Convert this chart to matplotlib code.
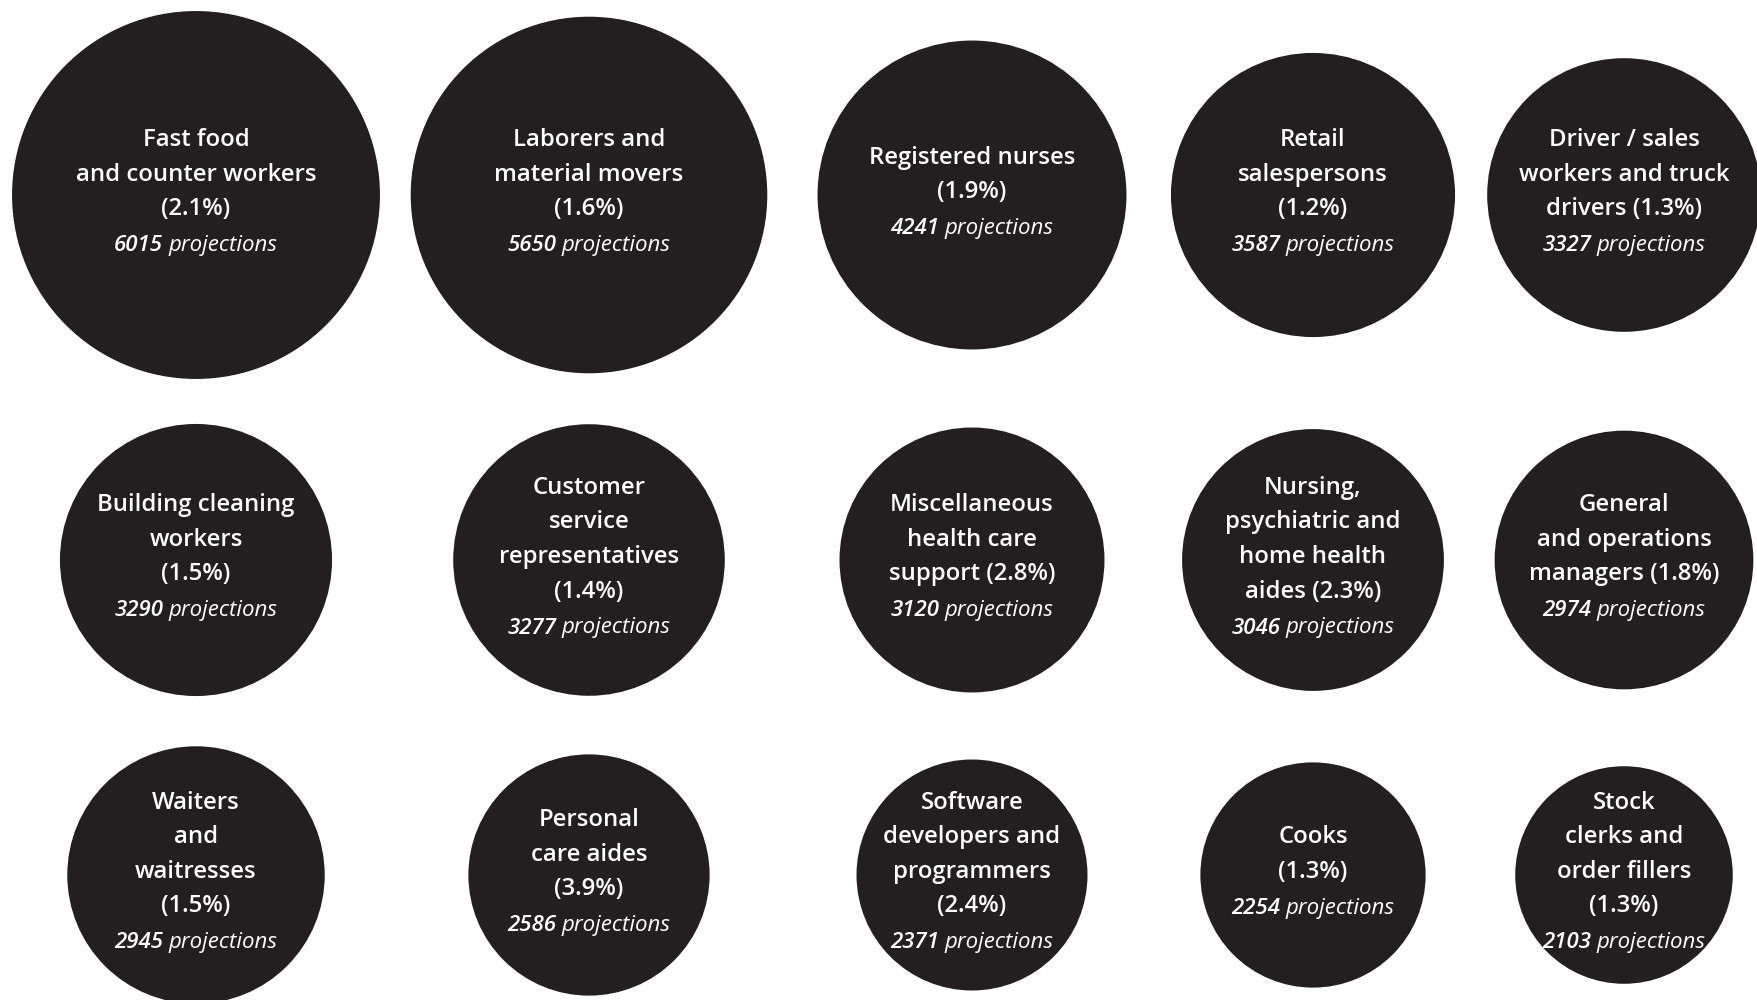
import matplotlib.pyplot as plt
from matplotlib.patches import Circle
from matplotlib.offsetbox import TextArea, HPacker, AnnotationBbox
import numpy as np

# occupation labels (as broken in the reference), share and projection counts
labels = [
    "Fast food\nand counter workers\n(2.1%)",
    "Laborers and\nmaterial movers\n(1.6%)",
    "Registered nurses\n(1.9%)",
    "Retail\nsalespersons\n(1.2%)",
    "Driver / sales\nworkers and truck\ndrivers (1.3%)",
    "Building cleaning\nworkers\n(1.5%)",
    "Customer\nservice\nrepresentatives\n(1.4%)",
    "Miscellaneous\nhealth care\nsupport (2.8%)",
    "Nursing,\npsychiatric and\nhome health\naides (2.3%)",
    "General\nand operations\nmanagers (1.8%)",
    "Waiters\nand\nwaitresses\n(1.5%)",
    "Personal\ncare aides\n(3.9%)",
    "Software\ndevelopers and\nprogrammers\n(2.4%)",
    "Cooks\n(1.3%)",
    "Stock\nclerks and\norder fillers\n(1.3%)",
]
projections = [6015, 5650, 4241, 3587, 3327,
               3290, 3277, 3120, 3046, 2974,
               2945, 2586, 2371, 2254, 2103]

# grid layout (pixel space)
col_x = [196, 589, 972, 1313, 1624]
row_y = [195, 560, 875]
k = 2.372          # radius = k * sqrt(value), area proportional to value
line_h = 34.5
fill = '#231f20'
font = 'Open Sans'

fig = plt.figure(figsize=(17.58, 10), dpi=100)
ax = fig.add_axes([0, 0, 1, 1])
ax.set_xlim(0, 1758)
ax.set_ylim(1000, 0)
ax.set_aspect('equal')
ax.axis('off')

for i, (lab, val) in enumerate(zip(labels, projections)):
    cx = col_x[i % 5]
    cy = row_y[i // 5]
    r = k * np.sqrt(val)
    ax.add_patch(Circle((cx, cy), r, color=fill, lw=0))

    lines = lab.split('\n')
    n = len(lines) + 1
    for j, line in enumerate(lines):
        y = cy - 3 + (j - (n - 1) / 2) * line_h
        ax.text(cx, y, line, ha='center', va='center', color='white',
                fontsize=17.2, fontweight='semibold', family=font)

    y = cy - 3 + ((n - 1) - (n - 1) / 2) * line_h + 2
    num = TextArea(str(val), textprops=dict(color='white', fontsize=16,
                   style='italic', fontweight='semibold', family=font))
    word = TextArea('projections', textprops=dict(color='white', fontsize=16,
                    style='italic', fontweight='normal', family=font))
    box = HPacker(children=[num, word], align='baseline', pad=0, sep=4)
    ab = AnnotationBbox(box, (cx, y), frameon=False, box_alignment=(0.5, 0.5),
                        pad=0)
    ax.add_artist(ab)

fig.savefig('out.png', dpi=100, facecolor='white')
